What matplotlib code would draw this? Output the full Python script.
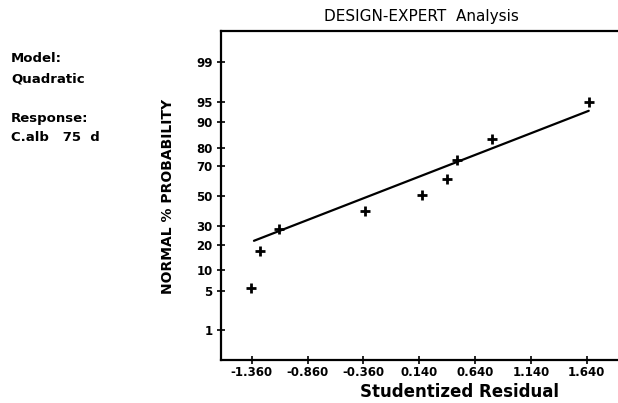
import numpy as np
import matplotlib
matplotlib.use("Agg")
import matplotlib.pyplot as plt
from statistics import NormalDist

# ---- data ----
residuals = [-1.364, -1.286, -1.113, -0.346, 0.167, 0.391, 0.481, 0.794, 1.657]
probabilities = [5.6, 17.0, 28.2, 39.8, 50.8, 61.9, 73.5, 84.0, 94.9]
fit_x = [-1.34, 1.657]
fit_p = [21.9, 93.1]
xticks = [-1.36, -0.86, -0.36, 0.14, 0.64, 1.14, 1.64]
xtick_labels = ["-1.360", "-0.860", "-0.360", "0.140", "0.640", "1.140", "1.640"]
yticks = [1, 5, 10, 20, 30, 50, 70, 80, 90, 95, 99]
ytick_labels = ["1", "5", "10", "20", "30", "50", "70", "80", "90", "95", "99"]
info_lines = ["Model:", "Quadratic", "", "Response:", "C.alb   75  d"]

_nd = NormalDist()

def fwd(p):
    p = np.clip(np.asarray(p, dtype=float), 1e-6, 100 - 1e-6)
    return np.array([_nd.inv_cdf(v / 100.0) for v in p.ravel()]).reshape(p.shape)

def inv(z):
    z = np.asarray(z, dtype=float)
    return np.array([_nd.cdf(v) * 100.0 for v in z.ravel()]).reshape(z.shape)

fig = plt.figure(figsize=(6.18, 4.03), dpi=100)
ax = fig.add_axes([221 / 618, 1 - 360 / 403, (617 - 221) / 618, (360 - 31) / 403])
ax.set_yscale("function", functions=(fwd, inv))

ax.plot(fit_x, fit_p, color="black", lw=1.6, solid_capstyle="round")
ax.plot(residuals, probabilities, linestyle="none", marker="+", ms=7, mew=2.0, color="black")

ax.set_xlim(-1.635, 1.910)
ax.set_ylim(inv(-2.847), inv(2.870))

bold = dict(family="DejaVu Sans", weight="bold")
ax.set_xticks(xticks)
ax.set_xticklabels(xtick_labels, fontsize=8.5, **bold)
ax.set_yticks(yticks)
ax.set_yticklabels(ytick_labels, fontsize=8.5, **bold)
ax.minorticks_off()
ax.tick_params(axis="both", direction="inout", length=6, width=1.2, color="black")
ax.tick_params(axis="x", pad=1)
ax.tick_params(axis="y", pad=3)

for s in ["left", "bottom", "top"]:
    ax.spines[s].set_linewidth(1.6)
ax.spines["right"].set_visible(False)

fig.text(421 / 618, 1 - 17 / 403, "DESIGN-EXPERT  Analysis", ha="center", va="center",
         fontsize=11, family="DejaVu Sans")
fig.text(168 / 618, 1 - 196 / 403, "NORMAL % PROBABILITY", rotation=90, ha="center",
         va="center", fontsize=10, **bold)
fig.text(460 / 618, 1 - 392 / 403, "Studentized Residual", ha="center", va="center",
         fontsize=12, **bold)

y0 = 59
for i, line in enumerate(info_lines):
    if line:
        fig.text(11 / 618, 1 - (y0 + i * 19.7) / 403, line, ha="left", va="center",
                 fontsize=9.5, **bold)

fig.savefig("out.png", dpi=100, facecolor="white")
